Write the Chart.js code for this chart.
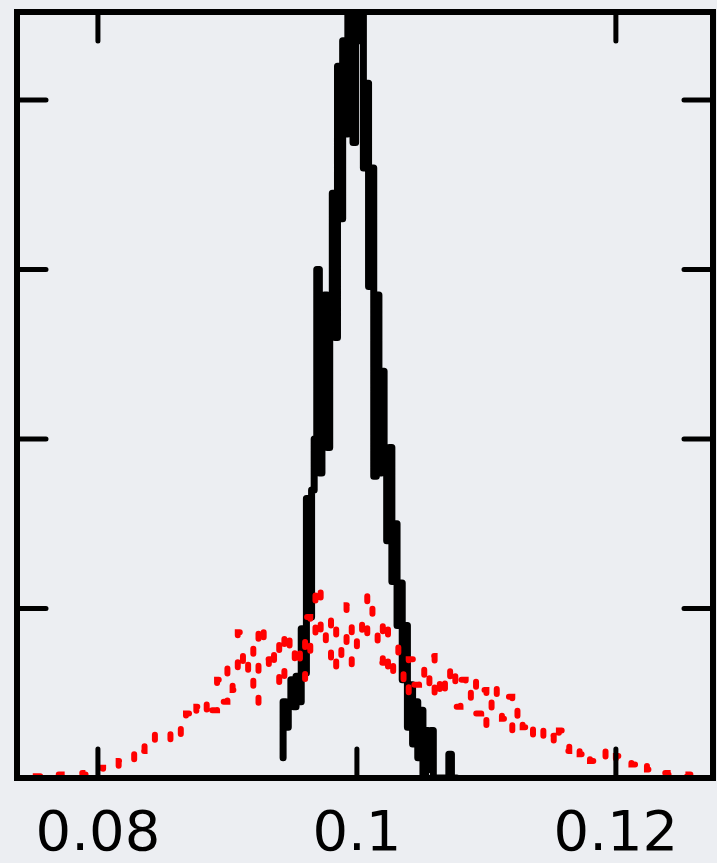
<!DOCTYPE html>
<html>
<head>
<meta charset="utf-8">
<script src="https://cdn.jsdelivr.net/npm/chart.js@4/dist/chart.umd.min.js"></script>
<style>
  html, body { margin: 0; padding: 0; background: #eceef2; }
  #wrap { width: 717px; height: 863px; }
</style>
</head>
<body>
<div id="wrap"><canvas id="histChart"></canvas></div>
<script>
// bin setup
const narrowStart = 0.0943;
const narrowWidth = 0.0002;
const wideStart = 0.0736;
const wideWidth = 0.0004;

// tick labels
const xTicks = [0.08, 0.1, 0.12];
const xTickLabels = ['0.08', '0.1', '0.12'];
const yTicks = [1, 2, 3, 4];

// narrow distribution (black)
const narrowCounts = [
    0.12, 0.45, 0.3, 0.45, 0.58, 0.42, 0.6, 0.45, 0.88, 0.62,
    1.65, 0.95, 1.7, 2.0, 3.0, 1.8, 2.3, 2.85, 1.95, 2.75,
    3.45, 2.6, 4.2, 3.3, 4.35, 3.8, 4.6, 4.3, 3.75, 4.9,
    4.35, 4.7, 3.6, 4.1, 2.9, 3.6, 1.78, 2.85, 1.8, 2.4,
    1.85, 1.4, 1.95, 1.16, 1.5, 0.9, 1.15, 0.58, 0.9, 0.3,
    0.55, 0.2, 0.45, 0.12, 0.4, 0.0, 0.28, 0.05, 0.28, 0,
    0, 0, 0, 0, 0, 0.14, 0
];

// wide distribution (red, dotted)
const wideCounts = [
    0.02, 0.0, 0.01, 0.02, 0.0, 0.01, 0.02, 0.01, 0.0, 0.02,
    0.01, 0.0, 0.02, 0.03, 0.02, 0.05, 0.03, 0.06, 0.04, 0.08,
    0.07, 0.1, 0.13, 0.1, 0.2, 0.16, 0.25, 0.22, 0.27, 0.24,
    0.26, 0.22, 0.3, 0.25, 0.38, 0.33, 0.42, 0.36, 0.48, 0.4,
    0.58, 0.45, 0.66, 0.52, 0.86, 0.6, 0.78, 0.43, 0.92, 0.7,
    0.62, 0.82, 0.52, 0.88, 0.68, 0.8, 0.58, 0.95, 0.74, 1.15,
    0.78, 0.95, 0.62, 0.88, 0.7, 1.02, 0.66, 0.92, 0.8, 1.1,
    0.85, 0.68, 0.95, 0.58, 0.78, 0.64, 0.48, 0.7, 0.55, 0.66,
    0.52, 0.72, 0.45, 0.62, 0.5, 0.68, 0.42, 0.58, 0.46, 0.6,
    0.38, 0.52, 0.3, 0.55, 0.4, 0.35, 0.48, 0.26, 0.42, 0.3,
    0.35, 0.22, 0.28, 0.2, 0.25, 0.18, 0.28, 0.16, 0.22, 0.2,
    0.14, 0.18, 0.1, 0.15, 0.12, 0.16, 0.09, 0.13, 0.1, 0.12,
    0.08, 0.06, 0.1, 0.05, 0.04, 0.06, 0.03, 0.02, 0.04, 0.02,
    0.01, 0.02, 0.0, 0.01, 0.0
];

function toSteps(start, width, counts) {
    const pts = counts.map((c, i) => ({ x: start + i * width, y: c }));
    pts.push({ x: start + counts.length * width, y: counts[counts.length - 1] });
    return pts;
}

// box frame with inward ticks
const framePlugin = {
    id: 'frame',
    afterDatasetsDraw(chart) {
        const { ctx, chartArea: a, scales } = chart;
        const len = 29;
        ctx.save();
        ctx.strokeStyle = '#000';
        ctx.lineCap = 'round';
        ctx.lineWidth = 5;
        xTicks.forEach(v => {
            const px = scales.x.getPixelForValue(v);
            ctx.beginPath();
            ctx.moveTo(px, a.bottom); ctx.lineTo(px, a.bottom - len);
            ctx.moveTo(px, a.top); ctx.lineTo(px, a.top + len);
            ctx.stroke();
        });
        yTicks.forEach(v => {
            const py = scales.y.getPixelForValue(v);
            ctx.beginPath();
            ctx.moveTo(a.left, py); ctx.lineTo(a.left + len, py);
            ctx.moveTo(a.right, py); ctx.lineTo(a.right - len, py);
            ctx.stroke();
        });
        ctx.lineCap = 'butt';
        ctx.lineWidth = 6;
        ctx.strokeRect(a.left, a.top, a.right - a.left, a.bottom - a.top);
        ctx.restore();
    }
};

const ctx = document.getElementById('histChart').getContext('2d');
new Chart(ctx, {
    type: 'line',
    data: {
        datasets: [
            {
                label: 'wide',
                data: toSteps(wideStart, wideWidth, wideCounts),
                stepped: 'after',
                borderColor: '#ff0000',
                borderWidth: 6,
                borderDash: [5, 27],
                borderCapStyle: 'round',
                pointRadius: 0,
                fill: false
            },
            {
                label: 'narrow',
                data: toSteps(narrowStart, narrowWidth, narrowCounts),
                stepped: 'after',
                borderColor: '#000000',
                borderWidth: 7,
                borderCapStyle: 'round',
                borderJoinStyle: 'round',
                pointRadius: 0,
                fill: false
            }
        ]
    },
    options: {
        responsive: true,
        maintainAspectRatio: false,
        animation: false,
        layout: { padding: { left: 17, right: 4, top: 12, bottom: 0 } },
        plugins: {
            legend: { display: false },
            tooltip: { enabled: false }
        },
        scales: {
            x: {
                type: 'linear',
                min: 0.07375,
                max: 0.1275,
                afterBuildTicks: s => { s.ticks = xTicks.map(v => ({ value: v })); },
                afterFit: s => { s.height = 85; },
                ticks: {
                    color: '#000',
                    padding: 24,
                    maxRotation: 0,
                    font: { family: 'DejaVu Sans', size: 56 },
                    callback: (v) => xTickLabels[xTicks.indexOf(v)]
                },
                grid: { display: false, drawTicks: false },
                border: { display: false }
            },
            y: {
                display: false,
                min: 0,
                max: 4.52
            }
        }
    },
    plugins: [framePlugin]
});
</script>
</body>
</html>
